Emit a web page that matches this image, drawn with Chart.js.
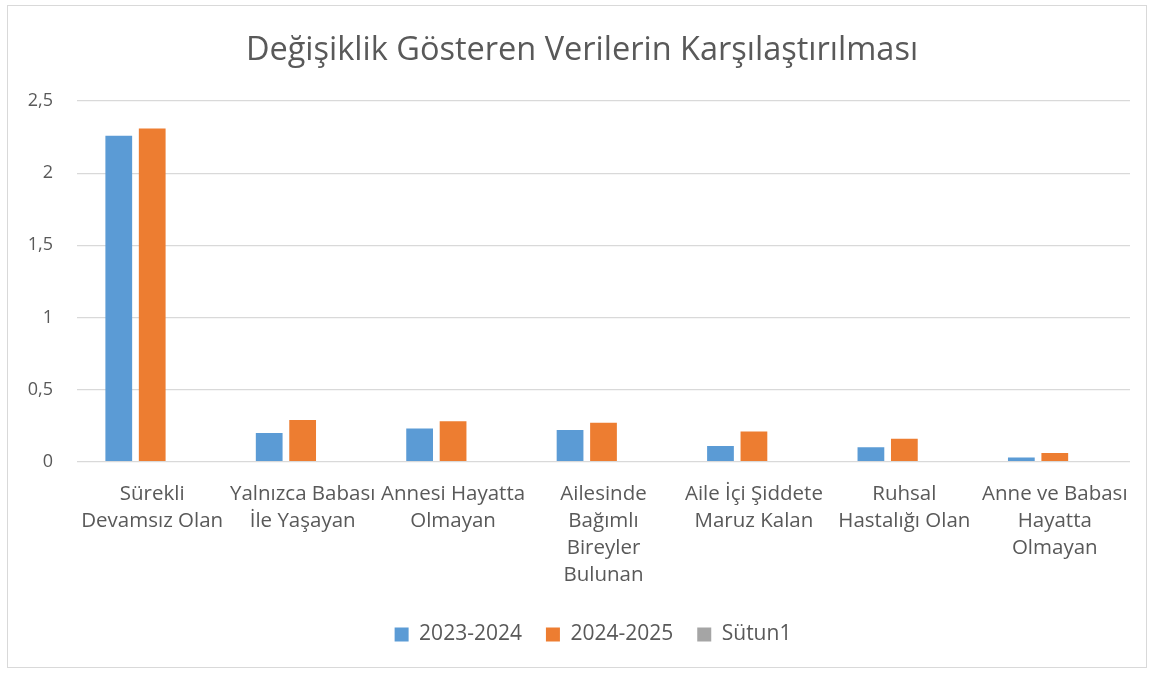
<!DOCTYPE html>
<html>
<head>
<meta charset="utf-8">
<script src="https://cdn.jsdelivr.net/npm/chart.js@4"></script>
<style>
  body { margin: 0; background: #fff; }
  #frame {
    position: absolute; left: 7px; top: 5px;
    width: 1140px; height: 663px;
    border: 1px solid #d9d9d9; box-sizing: border-box;
  }
</style>
</head>
<body>
<div id="frame"><canvas id="chart"></canvas></div>
<script>
const categories = [
  ["Sürekli", "Devamsız Olan"],
  ["Yalnızca Babası", "İle Yaşayan"],
  ["Annesi Hayatta", "Olmayan"],
  ["Ailesinde", "Bağımlı", "Bireyler", "Bulunan"],
  ["Aile İçi Şiddete", "Maruz Kalan"],
  ["Ruhsal", "Hastalığı Olan"],
  ["Anne ve Babası", "Hayatta", "Olmayan"]
];
const seriesNames = ["2023-2024", "2024-2025", "Sütun1"];
const values2324 = [2.26, 0.20, 0.23, 0.22, 0.11, 0.10, 0.03];
const values2425 = [2.31, 0.29, 0.28, 0.27, 0.21, 0.16, 0.06];
const valuesSutun1 = [null, null, null, null, null, null, null];
const colors = ["#5b9bd5", "#ed7d31", "#a5a5a5"];

const textColor = "#595959";
const fontFamily = "'Open Sans', Lato, sans-serif";

// title and legend sit a bit right of the frame centre in the original
const nudgeRight = {
  id: "nudgeRight",
  afterLayout(chart) {
    if (chart.legend) { chart.legend.left += 24; chart.legend.right += 24; }
    if (chart.titleBlock) { chart.titleBlock.left += 13; chart.titleBlock.right += 13; }
  }
};

new Chart(document.getElementById("chart"), {
  type: "bar",
  data: {
    labels: categories,
    datasets: [values2324, values2425, valuesSutun1].map((d, i) => ({
      label: seriesNames[i],
      data: d,
      backgroundColor: colors[i],
      categoryPercentage: 0.667,
      barPercentage: 0.8
    }))
  },
  plugins: [nudgeRight],
  options: {
    responsive: true,
    maintainAspectRatio: false,
    animation: false,
    layout: { padding: { left: 0, right: 16, top: 4, bottom: 12 } },
    plugins: {
      title: {
        display: true,
        text: "Değişiklik Gösteren Verilerin Karşılaştırılması",
        color: textColor,
        font: { family: fontFamily, size: 32.5, weight: "normal" },
        padding: { top: 21, bottom: 31 }
      },
      legend: {
        position: "bottom",
        labels: {
          color: textColor,
          font: { family: fontFamily, size: 21 },
          boxWidth: 14,
          boxHeight: 14,
          padding: 24
        }
      },
      tooltip: { enabled: false }
    },
    scales: {
      x: {
        grid: { display: false },
        border: { display: false },
        ticks: {
          color: textColor,
          font: { family: fontFamily, size: 20.5, lineHeight: 1.32 },
          maxRotation: 0,
          autoSkip: false,
          padding: 11
        }
      },
      y: {
        min: 0,
        max: 2.5,
        afterFit: s => { s.width = 69; },
        grid: { color: "#d9d9d9", lineWidth: 1.3, drawTicks: false },
        border: { display: false },
        ticks: {
          stepSize: 0.5,
          color: textColor,
          font: { family: fontFamily, size: 18 },
          padding: 24,
          callback: v => String(v).replace(".", ",")
        }
      }
    }
  }
});
</script>
</body>
</html>
